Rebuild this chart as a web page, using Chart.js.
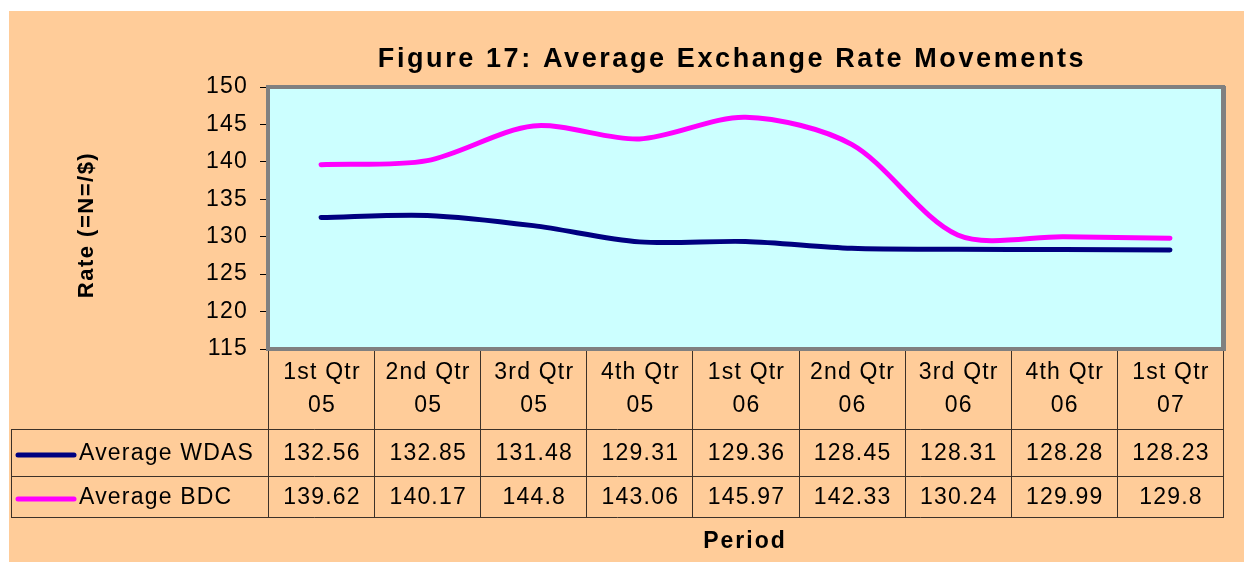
<!DOCTYPE html>
<html>
<head>
<meta charset="utf-8">
<script src="https://cdn.jsdelivr.net/npm/chart.js@4"></script>
<style>
html, body { margin: 0; padding: 0; background: #fff; }
#wrap { width: 1244px; height: 562px; }
</style>
</head>
<body>
<div id="wrap"><canvas id="rateChart" width="1244" height="562"></canvas></div>
<script>
// ---------- DATA ----------
const quarters = [['1st Qtr', '05'], ['2nd Qtr', '05'], ['3rd Qtr', '05'], ['4th Qtr', '05'],
  ['1st Qtr', '06'], ['2nd Qtr', '06'], ['3rd Qtr', '06'], ['4th Qtr', '06'], ['1st Qtr', '07']];
const wdasRates = [132.56, 132.85, 131.48, 129.31, 129.36, 128.45, 128.31, 128.28, 128.23];
const bdcRates = [139.62, 140.17, 144.8, 143.06, 145.97, 142.33, 130.24, 129.99, 129.8];
const seriesNames = ['Average WDAS', 'Average BDC'];
const seriesColors = ['#000080', '#FF00FF'];
const yMin = 115, yMax = 150, yStep = 5;

const titleText = 'Figure 17: Average Exchange Rate Movements';
const yTitle = 'Rate (=N=/$)';
const xTitle = 'Period';

const FONT = '"Liberation Sans", Arial, sans-serif';
const PEACH = '#FFCC99';
const LINE_COL = '#3d3128';

// ---------- PLUGIN: frame, table, titles ----------
const framePlugin = {
  id: 'frame',
  beforeDraw(chart) {
    const ctx = chart.ctx, a = chart.chartArea;
    ctx.save();
    ctx.fillStyle = '#fff';
    ctx.fillRect(0, 0, chart.width, chart.height);
    ctx.fillStyle = PEACH;
    ctx.fillRect(9, 11, chart.width - 9, chart.height - 11);
    ctx.fillStyle = '#CCFFFF';
    ctx.fillRect(a.left, a.top, a.right - a.left, a.bottom - a.top);
    ctx.restore();
    ctx.letterSpacing = '1.2px';
  },
  beforeDatasetsDraw(chart) {
    const ctx = chart.ctx, a = chart.chartArea;
    ctx.save();
    ctx.strokeStyle = '#808080';
    ctx.lineWidth = 4;
    ctx.strokeRect(a.left, a.top, a.right - a.left, a.bottom - a.top);
    // slightly heavier right/bottom edge like the original shadow
    ctx.lineWidth = 2;
    ctx.beginPath();
    ctx.moveTo(a.right + 2, a.top - 1);
    ctx.lineTo(a.right + 2, a.bottom + 2);
    ctx.stroke();
    ctx.restore();
  },
  afterDraw(chart) {
    const ctx = chart.ctx, a = chart.chartArea;
    const n = quarters.length;
    const step = (a.right - a.left) / n;
    const tableLeft = 11, rowTop = 429, rowMid = 475.5, tableBottom = 517;

    ctx.save();
    // grid of the data table
    ctx.strokeStyle = LINE_COL;
    ctx.lineWidth = 1;
    ctx.beginPath();
    for (let i = 0; i <= n; i++) {
      const x = Math.round(a.left + i * step) + 0.5;
      ctx.moveTo(x, a.bottom + 2);
      ctx.lineTo(x, tableBottom);
    }
    ctx.moveTo(tableLeft + 0.5, rowTop);
    ctx.lineTo(tableLeft + 0.5, tableBottom);
    [rowTop, rowMid, tableBottom].forEach(y => {
      ctx.moveTo(tableLeft, Math.round(y) + 0.5);
      ctx.lineTo(Math.round(a.right) + 1, Math.round(y) + 0.5);
    });
    ctx.stroke();

    // header labels and values
    ctx.fillStyle = '#000';
    ctx.font = '23px ' + FONT;
    ctx.letterSpacing = '1.2px';
    ctx.textAlign = 'center';
    ctx.textBaseline = 'alphabetic';
    const rows = [wdasRates, bdcRates];
    const rowBase = [460, 504];
    for (let i = 0; i < n; i++) {
      const cx = chart.scales.x.getPixelForValue(i) + 1;
      ctx.fillText(quarters[i][0], cx, 379);
      ctx.fillText(quarters[i][1], cx, 412);
      rows.forEach((vals, r) => ctx.fillText(String(vals[i]), cx, rowBase[r]));
    }

    // legend keys in the table
    ctx.textAlign = 'left';
    const keyY = [455, 499];
    seriesNames.forEach((name, r) => {
      ctx.strokeStyle = seriesColors[r];
      ctx.lineWidth = 5;
      ctx.lineCap = 'round';
      ctx.beginPath();
      ctx.moveTo(18, keyY[r]);
      ctx.lineTo(74, keyY[r]);
      ctx.stroke();
      ctx.fillText(name, 79, rowBase[r]);
    });

    // titles
    ctx.font = 'bold 27px ' + FONT;
    ctx.letterSpacing = '2.6px';
    ctx.textAlign = 'center';
    ctx.fillText(titleText, 732, 67);

    ctx.font = 'bold 23px ' + FONT;
    ctx.letterSpacing = '2px';
    ctx.fillText(xTitle, 745, 548);

    ctx.font = 'bold 22px ' + FONT;
    ctx.letterSpacing = '1.5px';
    ctx.translate(93, 225);
    ctx.rotate(-Math.PI / 2);
    ctx.fillText(yTitle, 0, 0);
    ctx.restore();
  }
};

// ---------- CHART ----------
const lineStyle = { borderWidth: 5, pointRadius: 0, tension: 0.3, borderCapStyle: 'round', borderJoinStyle: 'round', fill: false };

new Chart(document.getElementById('rateChart').getContext('2d'), {
  type: 'line',
  data: {
    labels: quarters,
    datasets: [
      Object.assign({ label: seriesNames[0], data: wdasRates, borderColor: seriesColors[0] }, lineStyle),
      Object.assign({ label: seriesNames[1], data: bdcRates, borderColor: seriesColors[1] }, lineStyle)
    ]
  },
  options: {
    responsive: false,
    animation: false,
    layout: { padding: { left: 0, top: 87, right: 21, bottom: 213 } },
    plugins: { legend: { display: false }, title: { display: false }, tooltip: { enabled: false } },
    scales: {
      x: { type: 'category', display: false, offset: true },
      y: {
        min: yMin, max: yMax,
        afterFit(scale) { scale.width = 268; },
        border: { display: false },
        grid: { drawOnChartArea: false, drawTicks: true, tickLength: 8, color: '#000', lineWidth: 1 },
        ticks: { stepSize: yStep, color: '#000', padding: 12, font: { family: FONT, size: 23 } }
      }
    }
  },
  plugins: [framePlugin]
});
</script>
</body>
</html>
